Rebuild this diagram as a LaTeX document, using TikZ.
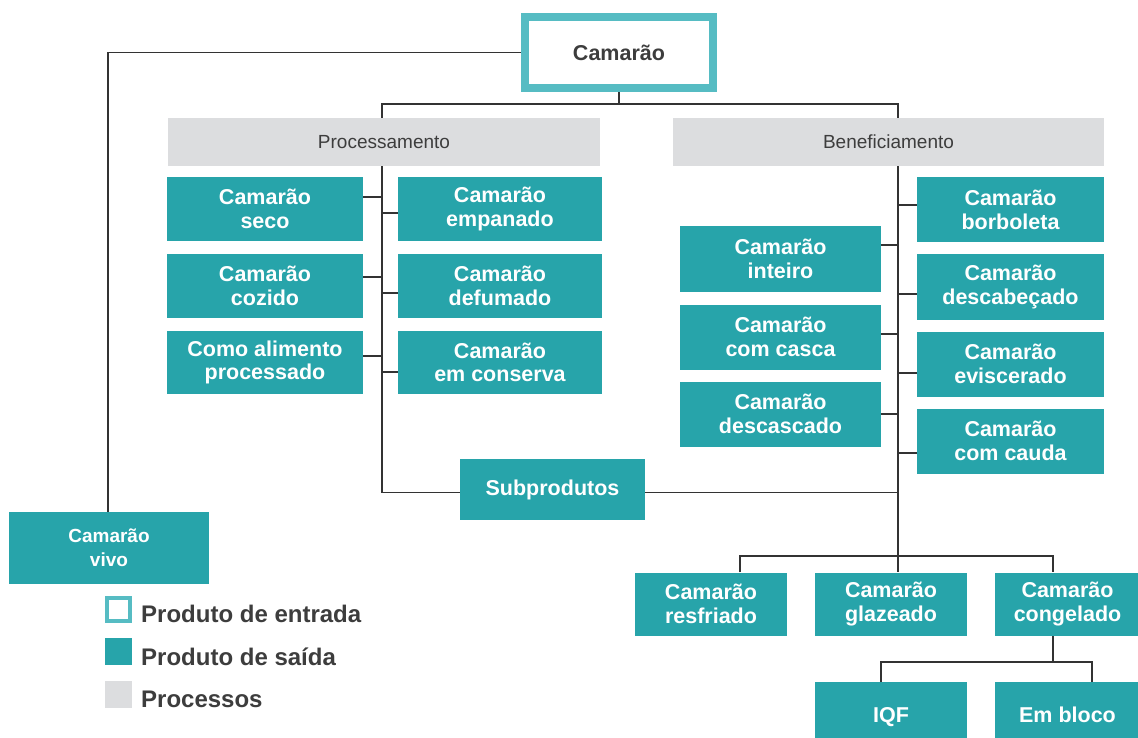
\documentclass[tikz,border=0pt]{standalone}
\usepackage{fontspec}
\setmainfont{Liberation Sans}
\usetikzlibrary{backgrounds}
\definecolor{teal1}{HTML}{27A4AA}
\definecolor{tealL}{HTML}{56BCC3}
\definecolor{grayP}{HTML}{DCDDDF}
\definecolor{lineC}{HTML}{333333}
\definecolor{txtD}{HTML}{3D3D3D}
\begin{document}
\begin{tikzpicture}[x=1pt,y=-1pt,
  prod/.style={fill=teal1, draw=none, inner sep=0pt, text=white, align=center,
    font=\fontsize{21.5}{23.5}\selectfont\bfseries},
  procbox/.style={fill=grayP, draw=none, inner sep=0pt, text=txtD,
    font=\fontsize{19}{22}\selectfont},
  conn/.style={draw=lineC, line width=1.3pt},
  legtxt/.style={anchor=base west, inner sep=0pt, text=txtD,
    font=\fontsize{24}{28}\selectfont\bfseries}]
\useasboundingbox (0,0) rectangle (1138,738);

% top node
\node[draw=tealL, line width=8pt, fill=white, minimum width=188, minimum height=71,
  inner sep=0pt, text=txtD, font=\fontsize{21.5}{24}\selectfont\bfseries] (cam) at (619,52.5) {Camarão};

\node[procbox, minimum width=432, minimum height=48] (proc) at (384,142) {Processamento};
\node[procbox, minimum width=431, minimum height=48] (benef) at (888.5,142) {Beneficiamento};

% Processamento products
\node[prod, minimum width=196, minimum height=64] (seco) at (265,209) {Camarão\\seco};
\node[prod, minimum width=196, minimum height=64] (cozido) at (265,286) {Camarão\\cozido};
\node[prod, minimum width=196, minimum height=63] (como) at (265,362.5) {Como alimento\\processado};
\node[prod, minimum width=204, minimum height=64] (empanado) at (500,209) {Camarão\\empanado};
\node[prod, minimum width=204, minimum height=64] (defumado) at (500,286) {Camarão\\defumado};
\node[prod, minimum width=204, minimum height=63] (conserva) at (500,362.5) {Camarão\\em conserva};

\node[prod, minimum width=185, minimum height=61] (sub) at (552.5,489.5) {Subprodutos};

% Beneficiamento products
\node[prod, minimum width=201, minimum height=65] (inteiro) at (780.5,259) {Camarão\\inteiro};
\node[prod, minimum width=201, minimum height=65] (casca) at (780.5,337) {Camarão\\com casca};
\node[prod, minimum width=201, minimum height=65] (descasc) at (780.5,414) {Camarão\\descascado};
\node[prod, minimum width=187, minimum height=65] (borb) at (1010.5,210) {Camarão\\borboleta};
\node[prod, minimum width=187, minimum height=65] (descab) at (1010.5,287) {Camarão\\descabeçado};
\node[prod, minimum width=187, minimum height=65] (evisc) at (1010.5,364) {Camarão\\eviscerado};
\node[prod, minimum width=187, minimum height=65] (cauda) at (1010.5,441) {Camarão\\com cauda};

\node[prod, minimum width=152, minimum height=63] (resf) at (711,604) {Camarão\\resfriado};
\node[prod, minimum width=152, minimum height=63] (glaz) at (891,604) {Camarão\\glazeado};
\node[prod, minimum width=145, minimum height=63] (cong) at (1067.5,604) {Camarão\\congelado};
\node[prod, minimum width=152, minimum height=66, text depth=0pt] (iqf) at (891,715) {IQF};
\node[prod, minimum width=145, minimum height=66, text depth=0pt] (bloco) at (1067.5,715) {Em bloco};

\node[prod, minimum width=200, minimum height=72, font=\fontsize{19}{24}\selectfont\bfseries] (vivo) at (109,548) {Camarão\\vivo};

% junction coordinates
\coordinate (top) at (619,104);
\coordinate (pl) at (382,104);
\coordinate (pr) at (898,104);
\coordinate (js) at (382,197);
\coordinate (je) at (382,213);
\coordinate (jc) at (382,277);
\coordinate (jd) at (382,293);
\coordinate (jp) at (382,356);
\coordinate (jv) at (382,372);
\coordinate (jsub) at (382,492.5);
\coordinate (rsub) at (898,492.5);
\coordinate (ji) at (898,245);
\coordinate (jk) at (898,334);
\coordinate (jx) at (898,414);
\coordinate (jb) at (898,205);
\coordinate (jh) at (898,294);
\coordinate (jev) at (898,373);
\coordinate (jca) at (898,453);
\coordinate (bot) at (898,556);
\coordinate (bl) at (740,556);
\coordinate (br) at (1053,556);
\coordinate (cb) at (1053,662);
\coordinate (cl) at (881,662);
\coordinate (cr) at (1092,662);
\coordinate (vc) at (108,52.5);

\begin{scope}[on background layer]
  \fill[white] (0,0) rectangle (1138,738);
  \draw[conn] (cam.west) -- (vc) -- (vivo.north -| vc);
  \draw[conn] (cam.south) -- (top);
  \draw[conn] (proc.north -| pl) -- (pl) -- (pr) -- (bot);
  \draw[conn] (proc.south -| pl) -- (jsub) -- (sub.west |- jsub);
  \draw[conn] (sub.east |- rsub) -- (rsub);
  \draw[conn] (seco.east |- js) -- (js);
  \draw[conn] (cozido.east |- jc) -- (jc);
  \draw[conn] (como.east |- jp) -- (jp);
  \draw[conn] (empanado.west |- je) -- (je);
  \draw[conn] (defumado.west |- jd) -- (jd);
  \draw[conn] (conserva.west |- jv) -- (jv);
  \draw[conn] (inteiro.east |- ji) -- (ji);
  \draw[conn] (casca.east |- jk) -- (jk);
  \draw[conn] (descasc.east |- jx) -- (jx);
  \draw[conn] (borb.west |- jb) -- (jb);
  \draw[conn] (descab.west |- jh) -- (jh);
  \draw[conn] (evisc.west |- jev) -- (jev);
  \draw[conn] (cauda.west |- jca) -- (jca);
  \draw[conn] (resf.north -| bl) -- (bl) -- (br) -- (cong.north -| br);
  \draw[conn] (bot) -- (glaz.north -| bot);
  \draw[conn] (cong.south -| cb) -- (cb);
  \draw[conn] (iqf.north -| cl) -- (cl) -- (cr) -- (bloco.north -| cr);
\end{scope}

% legend
\node[draw=tealL, line width=4pt, fill=white, minimum width=23, minimum height=23, inner sep=0pt] (lg1) at (118.5,609.5) {};
\node[fill=teal1, minimum width=27, minimum height=27, inner sep=0pt] (lg2) at (118.5,651.5) {};
\node[fill=grayP, minimum width=27, minimum height=27, inner sep=0pt] (lg3) at (118.5,694.5) {};
\node[legtxt] (lt1) at (141,622) {Produto de entrada};
\node[legtxt] (lt2) at (141,665) {Produto de saída};
\node[legtxt] (lt3) at (141,707) {Processos};
\end{tikzpicture}
\end{document}
